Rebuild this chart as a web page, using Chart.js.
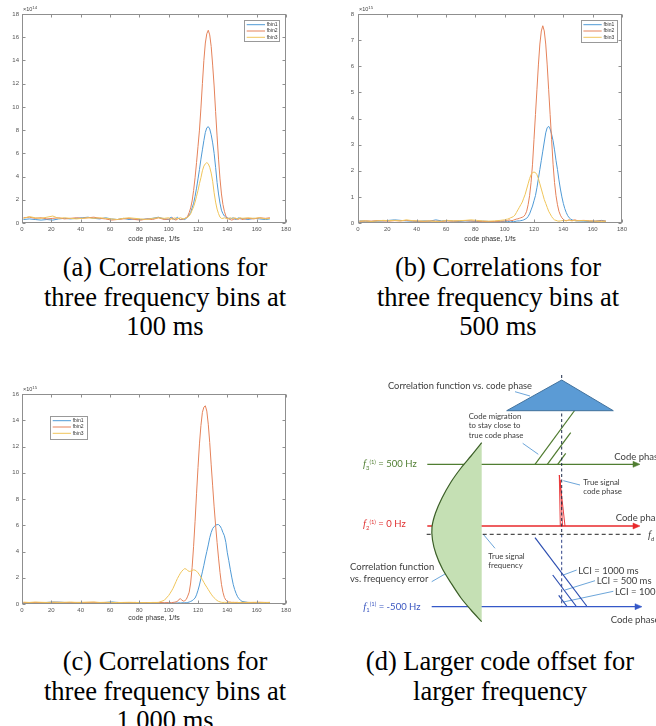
<!DOCTYPE html>
<html><head><meta charset="utf-8">
<script src="https://cdn.jsdelivr.net/npm/chart.js@4.4.1/dist/chart.umd.min.js"></script>
<style>
html,body{margin:0;padding:0;background:#fff;}
body{width:656px;height:726px;position:relative;overflow:hidden;}
canvas{position:absolute;}
.cap{position:absolute;width:340px;text-align:center;font-family:'Liberation Serif','Times New Roman',serif;font-size:26.5px;line-height:29.5px;color:#000;}
.exp{position:absolute;font-family:'Liberation Sans',Arial,sans-serif;font-size:5.5px;color:#444;line-height:1;white-space:nowrap;}
.exp sup{font-size:4.3px;position:relative;top:-2.5px;vertical-align:baseline;}
#dtext{position:absolute;left:330px;top:360px;width:326px;height:280px;}
#dtext div{position:absolute;white-space:nowrap;transform:translateY(-50%);font-family:Lato,'Open Sans',sans-serif;line-height:1.2;color:#404040;}
.fi{font-family:'Liberation Serif',serif;font-style:italic;font-size:1.12em;}
.sb{font-size:0.62em;position:relative;top:2.5px;}
.sp{font-size:0.62em;position:relative;top:-3.5px;}
</style></head><body>

<canvas id="cA" width="300" height="250" style="left:0;top:0;"></canvas>
<canvas id="cB" width="300" height="250" style="left:330px;top:0;"></canvas>
<canvas id="cC" width="300" height="260" style="left:0;top:370px;"></canvas>
<canvas id="cD" width="326" height="280" style="left:330px;top:360px;"></canvas>

<div class="exp" style="left:23px;top:7px;">×10<sup>14</sup></div>
<div class="exp" style="left:359px;top:7px;">×10<sup>15</sup></div>
<div class="exp" style="left:23px;top:387px;">×10<sup>15</sup></div>

<div class="cap" style="left:-5px;top:253px;">(a) Correlations for<br>three frequency bins at<br>100 ms</div>
<div class="cap" style="left:328px;top:253px;">(b) Correlations for<br>three frequency bins at<br>500 ms</div>
<div class="cap" style="left:-5px;top:647px;">(c) Correlations for<br>three frequency bins at<br>1,000 ms</div>
<div class="cap" style="left:330px;top:647px;">(d) Larger code offset for<br>larger frequency</div>

<div id="dtext">
  <div style="left:58px;top:25.7px;font-size:9.3px;">Correlation function vs. code phase</div>
  <div style="left:138.7px;top:56.7px;font-size:7.8px;">Code migration</div>
  <div style="left:138.7px;top:66.3px;font-size:7.8px;">to stay close to</div>
  <div style="left:138.7px;top:76px;font-size:7.8px;">true code phase</div>
  <div style="left:33px;top:104.3px;font-size:9.5px;color:#507e32;"><span class="fi">f</span><span class="sb">3</span><span class="sp">(1)</span> = 500 Hz</div>
  <div style="left:284.3px;top:96.7px;font-size:9.5px;">Code phase</div>
  <div style="left:253.3px;top:122.7px;font-size:7.8px;">True signal</div>
  <div style="left:253.3px;top:132.3px;font-size:7.8px;">code phase</div>
  <div style="left:33px;top:164.3px;font-size:9.5px;color:#e03030;"><span class="fi">f</span><span class="sb">2</span><span class="sp">(1)</span> = 0 Hz</div>
  <div style="left:285.7px;top:158.3px;font-size:9.5px;">Code phase</div>
  <div style="left:318px;top:175px;font-size:9.5px;"><span class="fi">f</span><span class="sb">d</span></div>
  <div style="left:158.3px;top:196.7px;font-size:7.8px;">True signal</div>
  <div style="left:158.3px;top:206px;font-size:7.8px;">frequency</div>
  <div style="left:20px;top:207.3px;font-size:9.5px;">Correlation function</div>
  <div style="left:20px;top:219.3px;font-size:9.5px;">vs. frequency error</div>
  <div style="left:248.3px;top:210.7px;font-size:9.5px;">LCI = 1000 ms</div>
  <div style="left:266.7px;top:220.7px;font-size:9.5px;">LCI = 500 ms</div>
  <div style="left:285px;top:231.7px;font-size:9.5px;">LCI = 100 ms</div>
  <div style="left:33.3px;top:246.7px;font-size:9.5px;color:#3a56c0;"><span class="fi">f</span><span class="sb">1</span><span class="sp">(1)</span> = -500 Hz</div>
  <div style="left:280.7px;top:260px;font-size:9.5px;">Code phase</div>
</div>

<script>
// ---------------- DATA ----------------
const codePhase = [1,5,9,13,17,21,25,29,33,37,41,45,49,53,57,61,65,69,73,77,81,85,89,93,97,
 100,101,102,103,104,105,106,107,108,109,110,111,112,113,114,115,116,117,118,119,
 120,121,122,123,124,125,126,127,128,129,130,131,132,133,134,135,136,137,138,139,
 140,141,142,143,144,145,146,147,148,149,150,154,158,162,166,169];

const seriesNames = ['fbin1','fbin2','fbin3'];

// (a) 100 ms, x10^14
const fbin1_100ms = [0.3,0.35,0.3,0.25,0.3,0.25,0.35,0.4,0.35,0.4,0.45,0.5,0.4,0.35,0.45,0.35,0.3,0.4,0.3,0.35,0.3,0.35,0.4,0.5,0.35,
 0.3,0.45,0.5,0.35,0.3,0.4,0.5,0.35,0.3,0.3, 0.35,0.3,0.4,0.5,0.7,0.9,1.3,1.7,2.3,3.0,
 3.8,4.6,5.5,6.3,7.1,7.8,8.2,8.3,8.1,7.6, 6.9,6.0,4.8,3.5,2.5,1.7,1.1,0.8,0.6,0.5,
 0.45,0.4,0.35,0.4,0.45,0.35,0.3,0.4,0.45,0.35, 0.4, 0.3,0.4,0.35,0.3,0.35];
const fbin2_100ms = [0.45,0.5,0.4,0.45,0.35,0.4,0.45,0.35,0.4,0.45,0.4,0.45,0.5,0.4,0.35,0.25,0.3,0.35,0.4,0.3,0.25,0.35,0.3,0.45,0.3,
 0.35,0.3,0.4,0.45,0.3,0.25,0.35,0.4,0.3,0.35, 0.3,0.4,0.45,0.6,0.9,1.3,1.9,2.8,3.9,5.2,
 6.6,8.0,9.9,12.0,14.0,15.5,16.3,16.6,16.2,15.2, 13.6,11.8,9.6,7.5,5.5,3.8,2.5,1.6,1.0,0.6,
 0.4,0.35,0.3,0.25,0.3,0.35,0.4,0.3,0.35,0.4, 0.3, 0.4,0.35,0.45,0.4,0.45];
const fbin3_100ms = [0.4,0.55,0.45,0.4,0.5,0.6,0.4,0.45,0.4,0.35,0.4,0.45,0.4,0.45,0.4,0.35,0.3,0.4,0.45,0.4,0.35,0.3,0.4,0.45,0.4,
 0.45,0.4,0.35,0.3,0.45,0.4,0.35,0.4,0.45,0.4, 0.35,0.4,0.45,0.5,0.6,0.8,1.1,1.4,1.8,2.3,
 2.8,3.4,3.9,4.5,4.9,5.1,5.2,5.1,4.8,4.3, 3.6,2.6,1.8,1.2,0.8,0.5,0.4,0.4,0.45,0.4,
 0.35,0.4,0.45,0.4,0.4,0.45,0.4,0.35,0.4,0.45, 0.4, 0.45,0.4,0.45,0.35,0.4];

// (b) 500 ms, x10^15
const fbin1_500ms = [0.08,0.07,0.06,0.07,0.08,0.1,0.12,0.1,0.08,0.07,0.06,0.08,0.07,0.12,0.08,0.09,0.07,0.06,0.08,0.07,0.06,0.07,0.06,0.05,0.05,
 0.05,0.06,0.05,0.06,0.07,0.06,0.05,0.06,0.07,0.08, 0.08,0.09,0.1,0.12,0.15,0.18,0.25,0.35,0.5,0.65,
 0.85,1.05,1.35,1.7,2.05,2.4,2.75,3.1,3.45,3.65, 3.7,3.6,3.4,3.15,2.8,2.4,2.05,1.65,1.3,1.0,
 0.75,0.55,0.4,0.28,0.2,0.15,0.12,0.1,0.09,0.08, 0.08, 0.07,0.06,0.07,0.1,0.07];
const fbin2_500ms = [0.06,0.08,0.07,0.09,0.08,0.07,0.09,0.08,0.1,0.08,0.07,0.06,0.08,0.07,0.06,0.08,0.07,0.08,0.09,0.08,0.07,0.06,0.05,0.06,0.07,
 0.08,0.1,0.09,0.12,0.1,0.09,0.11,0.13,0.15,0.16, 0.18,0.2,0.22,0.25,0.32,0.45,0.7,1.05,1.55,2.25,
 3.2,4.15,5.1,6.05,6.85,7.35,7.55,7.35,6.85,6.05, 5.1,4.15,3.2,2.25,1.55,1.05,0.7,0.45,0.3,0.2,
 0.14,0.1,0.09,0.1,0.12,0.1,0.09,0.11,0.12,0.1, 0.09, 0.1,0.08,0.07,0.08,0.07];
const fbin3_500ms = [0.07,0.08,0.06,0.08,0.1,0.09,0.1,0.08,0.12,0.09,0.08,0.07,0.08,0.06,0.07,0.1,0.08,0.09,0.1,0.12,0.1,0.08,0.07,0.08,0.1,
 0.12,0.14,0.15,0.17,0.2,0.22,0.25,0.3,0.4,0.5, 0.6,0.7,0.8,0.95,1.1,1.3,1.5,1.7,1.85,1.93,
 1.95,1.93,1.85,1.7,1.5,1.3,1.1,0.9,0.75,0.6, 0.45,0.35,0.25,0.17,0.12,0.1,0.08,0.07,0.08,0.09,
 0.1,0.09,0.08,0.1,0.11,0.09,0.08,0.1,0.09,0.08, 0.09, 0.09,0.08,0.07,0.06,0.07];

// (c) 1,000 ms, x10^15
const fbin1_1000ms = [0.1,0.08,0.09,0.1,0.12,0.15,0.14,0.12,0.1,0.09,0.1,0.08,0.09,0.1,0.12,0.16,0.12,0.1,0.08,0.09,0.1,0.08,0.07,0.06,0.06,
 0.06,0.07,0.06,0.07,0.08,0.07,0.08,0.09,0.08,0.09, 0.1,0.09,0.1,0.12,0.15,0.2,0.25,0.35,0.45,0.7,
 1.05,1.45,1.95,2.45,2.95,3.5,4.0,4.5,5.05,5.45, 5.75,5.9,6.0,6.05,6.05,5.95,5.75,5.45,5.2,4.7,
 3.9,3.3,2.65,2.05,1.5,1.1,0.8,0.55,0.4,0.28, 0.2, 0.12,0.1,0.11,0.1,0.12];
const fbin2_1000ms = [0.12,0.1,0.12,0.11,0.1,0.12,0.13,0.11,0.1,0.12,0.11,0.12,0.13,0.1,0.11,0.1,0.12,0.11,0.1,0.12,0.1,0.11,0.1,0.12,0.1,
 0.11,0.12,0.1,0.12,0.14,0.16,0.2,0.35,0.4,0.3, 0.22,0.25,0.35,0.6,0.9,1.6,2.8,4.4,6.3,8.4,
 10.4,12.2,13.6,14.6,15.0,15.1,14.7,13.7,12.3,10.6, 9.0,7.4,6.0,4.7,3.5,2.4,1.5,0.9,0.5,0.3,
 0.2,0.15,0.14,0.12,0.13,0.12,0.11,0.12,0.11,0.12, 0.11, 0.12,0.11,0.13,0.12,0.12];
const fbin3_1000ms = [0.14,0.12,0.15,0.13,0.12,0.14,0.12,0.13,0.15,0.12,0.13,0.14,0.15,0.12,0.13,0.12,0.11,0.12,0.13,0.12,0.11,0.1,0.12,0.12,0.28,
 0.65,0.82,1.0,1.2,1.45,1.7,1.95,2.15,2.35,2.5, 2.62,2.7,2.65,2.55,2.48,2.5,2.56,2.6,2.58,2.5,
 2.38,2.22,2.05,1.85,1.65,1.45,1.28,1.1,0.92,0.75, 0.6,0.47,0.36,0.27,0.2,0.16,0.13,0.12,0.13,0.12,
 0.11,0.12,0.13,0.12,0.11,0.12,0.13,0.12,0.11,0.12, 0.13, 0.12,0.13,0.12,0.11,0.12];

const yTickMaxA = 18, yTickMaxB = 8, yTickMaxC = 16;

// (d) schematic geometry (diagram units: 0..326 across, 0..280 down)
const corrVsCodeTriangle = [[176.7,50.7],[231.7,20],[283.3,50.7],[176.7,50.7]];
const corrVsFreqCurve = [[151.7,82.7],[141,96],[131,108],[121,122],[112,138],[105.5,153],[102,167],[102.5,180],[106,194],[112.5,209],[121,223],[131,238],[141,250],[151.7,261.7]];
const codeMigrationLines = [[[205,104.3],[256,35]],[[217.3,104.3],[240.7,72.7]],[[227.7,104.3],[235.7,93.3]]];
const lciLines = [[[205,177.7],[256.7,246]],[[222.7,215],[246,246]],[[228.7,235.3],[236.7,246]]];
const trueCodeSpike = [[[229.3,115],[230.3,166]],[[229.3,115],[235,166]],[[230.3,120],[232.5,166]]];
const bin3Axis = [[97.3,104.3],[305,104.3]];
const bin2Axis = [[97.3,166],[305,166]];
const bin1Axis = [[101.7,246.7],[307,246.7]];
const trueFreqLine = [[96.7,174.3],[311.7,174.3]];
const trueCodeLineUpper = [[231.7,15],[231.7,174.3]];
const trueCodeLineLower = [[231.7,174.3],[231.7,246.7]];
const leaderLines = [
 [[185,31.7],[200,36]], [[192.7,83.3],[208.3,94.3]], [[233.3,120.7],[250,125]],
 [[153.3,174.3],[165,188.3]], [[101.7,221.7],[115,214]],
 [[233.3,215],[246.7,210]], [[235,230],[265,220.7]], [[233.3,242],[283.3,231.3]]
];
const arrowHeads = [
 {tip:[310,104.3], color:'#507e32'}, {tip:[310,166], color:'#e8292b'}, {tip:[312,246.7], color:'#3558c8'}
];

// ---------------- CHARTS ----------------
const seriesColors = ['#4f9ad6','#e5825a','#f0c55a'];

function toPoints(ys){ return codePhase.map((x,i)=>({x:x, y:ys[i]})); }

const matlabAxes = {
  id:'matlabAxes',
  afterDatasetsDraw(chart, args, opts){
    const ctx = chart.ctx, a = chart.chartArea, xs = chart.scales.x, ys = chart.scales.y;
    ctx.save();
    ctx.strokeStyle = '#8f8f8f'; ctx.lineWidth = 1;
    const L=Math.round(a.left)+0.5, R=Math.round(a.right)-0.5, T=Math.round(a.top)+0.5, B=Math.round(a.bottom)-0.5;
    ctx.strokeRect(L,T,R-L,B-T);
    ctx.beginPath();
    xs.ticks.forEach(t=>{const p=Math.round(xs.getPixelForValue(t.value))+0.5; ctx.moveTo(p,B); ctx.lineTo(p,B-3); ctx.moveTo(p,T); ctx.lineTo(p,T+3);});
    ys.ticks.forEach(t=>{const p=Math.round(ys.getPixelForValue(t.value))+0.5; ctx.moveTo(L,p); ctx.lineTo(L+3,p); ctx.moveTo(R,p); ctx.lineTo(R-3,p);});
    ctx.stroke();
    const lg = opts.legend;
    if (lg){
      ctx.fillStyle='#fff'; ctx.fillRect(lg.x,lg.y,lg.w,lg.h);
      ctx.strokeStyle='#999'; ctx.strokeRect(Math.round(lg.x)+0.5,Math.round(lg.y)+0.5,Math.round(lg.w),Math.round(lg.h));
      ctx.font='5px "Liberation Sans", Arial, sans-serif'; ctx.textBaseline='middle';
      chart.data.datasets.forEach((ds,i)=>{
        const yy = lg.y + 4.7 + i*6.3;
        ctx.strokeStyle = ds.borderColor; ctx.lineWidth=1;
        ctx.beginPath(); ctx.moveTo(lg.x+2.7,yy); ctx.lineTo(lg.x+21,yy); ctx.stroke();
        ctx.fillStyle='#333'; ctx.fillText(ds.label, lg.x+22.7, yy);
      });
    }
    ctx.restore();
  }
};

function makePanel(id, seriesList, yMax, cfg){
  new Chart(document.getElementById(id), {
    type:'scatter',
    data:{datasets: seriesList.map((ys,i)=>({label:seriesNames[i], data:toPoints(ys), showLine:true,
      borderColor:seriesColors[i], backgroundColor:seriesColors[i], borderWidth:1, pointRadius:0, fill:false, order:3-i}))},
    options:{
      responsive:false, animation:false, devicePixelRatio:1, events:[],
      layout:{padding:cfg.pad},
      plugins:{legend:{display:false}, tooltip:{enabled:false}, matlabAxes:{legend:cfg.legend}},
      scales:{
        x:{type:'linear', min:0, max:180, afterFit:s=>{s.height=cfg.xh;},
           grid:{display:false, drawTicks:false}, border:{display:false},
           ticks:{stepSize:20, padding:3, maxRotation:0, font:{family:'Liberation Sans', size:6}, color:'#555'},
           title:{display:true, text:'code phase, 1/fs', font:{family:'Liberation Sans', size:7}, color:'#333', padding:{top:0,bottom:cfg.tpb}}},
        y:{type:'linear', min:0, max:yMax, afterFit:s=>{s.width=cfg.yw;},
           grid:{display:false, drawTicks:false}, border:{display:false},
           ticks:{stepSize:yMax>10?2:1, padding:cfg.ypad, font:{family:'Liberation Sans', size:6}, color:'#555'}}
      }
    },
    plugins:[matlabAxes]
  });
}

makePanel('cA',[fbin1_100ms,fbin2_100ms,fbin3_100ms], yTickMaxA,
  {pad:{left:0,top:14,right:14,bottom:0}, xh:27, yw:22, ypad:3, tpb:7, legend:{x:244,y:20,w:35,h:21}});
makePanel('cB',[fbin1_500ms,fbin2_500ms,fbin3_500ms], yTickMaxB,
  {pad:{left:0,top:14,right:8,bottom:0}, xh:27, yw:28, ypad:4, tpb:7, legend:{x:250.7,y:20,w:36,h:22}});
makePanel('cC',[fbin1_1000ms,fbin2_1000ms,fbin3_1000ms], yTickMaxC,
  {pad:{left:0,top:24,right:14,bottom:0}, xh:26, yw:22, ypad:3, tpb:8, legend:{x:50,y:46,w:36.7,h:22.7}});

// ---- panel (d) schematic ----
function pts(arr){ return arr.map(p=>({x:p[0], y:p[1]})); }
function line(arr, color, w, extra){ return Object.assign({data:pts(arr), showLine:true, borderColor:color, borderWidth:w, pointRadius:0, fill:false}, extra||{}); }
const dSets = [];
dSets.push(line(corrVsFreqCurve,'#3b5e27',1.2,{fill:'shape', backgroundColor:'#c5e0b4', tension:0.3}));
dSets.push(line(corrVsCodeTriangle,'#41719c',1,{fill:'shape', backgroundColor:'#5b9bd5'}));
dSets.push(line(trueFreqLine,'#222',1,{borderDash:[4,3]}));
dSets.push(line(trueCodeLineUpper,'#1e2a48',1,{borderDash:[3,2.5]}));
dSets.push(line(trueCodeLineLower,'#2c3f86',1,{borderDash:[3,2.5]}));
dSets.push(line(bin3Axis,'#507e32',1.3));
dSets.push(line(bin2Axis,'#e8292b',1.3));
dSets.push(line(bin1Axis,'#3558c8',1.3));
codeMigrationLines.forEach(s=>dSets.push(line(s,'#4e7a2e',1.2)));
lciLines.forEach(s=>dSets.push(line(s,'#2b4db0',1.2)));
trueCodeSpike.forEach(s=>dSets.push(line(s,'#e8292b',0.9)));
leaderLines.forEach(s=>dSets.push(line(s,'#5b9bd5',0.9)));
arrowHeads.forEach(a=>{
  const t=a.tip; dSets.push(line([[t[0]-7,t[1]-3],t,[t[0]-7,t[1]+3],[t[0]-7,t[1]-3]], a.color, 0.5, {fill:'shape', backgroundColor:a.color}));
});

new Chart(document.getElementById('cD'), {
  type:'scatter',
  data:{datasets:dSets},
  options:{responsive:false, animation:false, devicePixelRatio:1, events:[],
    layout:{padding:0},
    plugins:{legend:{display:false}, tooltip:{enabled:false}},
    scales:{x:{type:'linear', min:0, max:326, display:false}, y:{type:'linear', min:0, max:280, reverse:true, display:false}}
  }
});
</script>
</body></html>
